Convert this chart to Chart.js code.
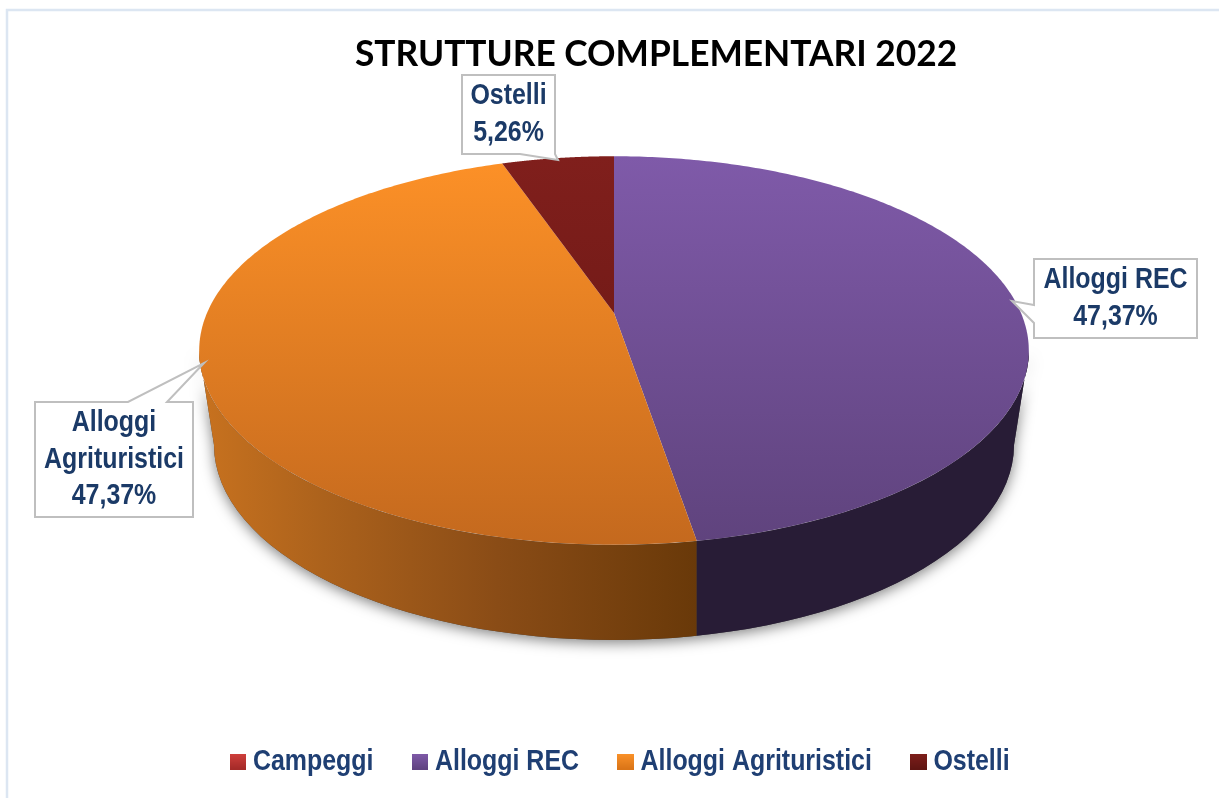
<!DOCTYPE html>
<html lang="it">
<head>
<meta charset="utf-8">
<title>Strutture complementari 2022</title>
<script src="https://cdn.jsdelivr.net/npm/chart.js@4"></script>
<style>
html,body{margin:0;padding:0;background:#fff;}
#wrap{position:relative;width:1219px;height:798px;overflow:hidden;}
</style>
</head>
<body>
<div id="wrap"><canvas id="c" width="1219" height="798"></canvas></div>
<script>
const chartTitle = 'STRUTTURE COMPLEMENTARI 2022';
const categories = ['Campeggi', 'Alloggi REC', 'Alloggi Agrituristici', 'Ostelli'];
const values = [0, 9, 9, 1];
const faceTop = ['#cf3d3a', '#7f5aa9', '#fd9127', '#801f1c'];
const faceBottom = ['#a52a28', '#5f437d', '#c4691e', '#641512'];
const swatchTop = ['#d0403c', '#7f5aa9', '#fb9229', '#7e1f1b'];
const swatchBottom = ['#a32a28', '#5f4280', '#d97417', '#5e1512'];

const SANS = '"Liberation Sans",Arial,sans-serif';
const NAVY = '#1b3a67';
const NARROW_X = 0.86;

const canvas = document.getElementById('c');
const g = canvas.getContext('2d');

function faceGradient(i){
  const gr = g.createLinearGradient(0,156,0,545);
  gr.addColorStop(0, faceTop[i]);
  gr.addColorStop(1, faceBottom[i]);
  return gr;
}
function swatch(i){
  const s = document.createElement('canvas');
  s.width = 19; s.height = 16;
  const x = s.getContext('2d');
  const gr = x.createLinearGradient(0,0,0,16);
  gr.addColorStop(0, swatchTop[i]);
  gr.addColorStop(1, swatchBottom[i]);
  x.fillStyle = gr;
  x.fillRect(0,0,19,16);
  return s;
}
const swatches = categories.map((_,i)=>swatch(i));

// perspective projection of the unit disc onto the tilted pie top
const P = {cx:614, cy:313, a:407, b:187, k:0.193};
function project(t){
  const X = Math.cos(t), Y = Math.sin(t), w = 1 - P.k*Y;
  return [P.cx + P.a*X/w, P.cy + P.b*Y/w];
}
const TOP = {cx:614, cy:350.5, rx:415, ry:194.5};
const BASE = {cx:614, cy:445, rx:400, ry:195};

function wallPath(c){
  c.beginPath();
  c.ellipse(TOP.cx,TOP.cy,TOP.rx,TOP.ry,0,0,Math.PI,false);
  c.lineTo(BASE.cx-BASE.rx,BASE.cy);
  c.ellipse(BASE.cx,BASE.cy,BASE.rx,BASE.ry,0,Math.PI,0,true);
  c.closePath();
}

const callouts = [
  {i:1, box:[1034,259,163,79],
   outline:[[1034,259],[1197,259],[1197,338],[1034,338],[1034,323],[1012,301],[1034,305]]},
  {i:2, box:[35,402,158,115],
   outline:[[35,402],[128,402],[204,363],[167,402],[193,402],[193,517],[35,517]]},
  {i:3, box:[462,75,93,79],
   outline:[[462,75],[555,75],[555,154],[558,160],[520,154],[462,154]]}
];

function wrap(c,text,maxW){
  const out=[]; let line='';
  text.split(' ').forEach(w=>{
    const t = line ? line+' '+w : w;
    if(line && c.measureText(t).width*NARROW_X>maxW){ out.push(line); line=w; } else line=t;
  });
  out.push(line);
  return out;
}

const pie3d = {
  id:'pie3d',
  beforeDraw(chart){
    const c = chart.ctx;
    c.save();
    c.strokeStyle = '#dce6f2';
    c.lineWidth = 2.5;
    c.strokeRect(7,10,1300,1000);
    c.restore();
  },
  afterLayout(chart){
    chart.titleBlock.left += 93;
    const lg = chart.legend;
    lg.top -= 12;
    lg.bottom -= 12;
    if(!lg._narrowed){
      lg._narrowed = true;
      const orig = lg.draw;
      lg.draw = function(){
        const c = chart.ctx, mid = 619;
        c.save();
        c.translate(mid,0); c.scale(NARROW_X,1); c.translate(-mid,0);
        orig.call(this);
        c.restore();
      };
    }
    lg.left += 13.5;
    lg.right += 13.5;
  },
  beforeDatasetDraw(chart,args){
    const c = chart.ctx;
    const arcs = args.meta.data;
    // side wall
    const split = project(arcs[1].endAngle)[0];
    c.save();
    c.shadowColor = 'rgba(0,0,0,0.5)';
    c.shadowBlur = 14;
    c.shadowOffsetY = 3;
    c.fillStyle = '#444';
    wallPath(c); c.fill();
    c.restore();

    c.save();
    wallPath(c); c.clip();
    const gr = c.createLinearGradient(199,0,split,0);
    gr.addColorStop(0,'#c8721f');
    gr.addColorStop(0.25,'#ac621c');
    gr.addColorStop(0.6,'#8a4c16');
    gr.addColorStop(1,'#693909');
    c.fillStyle = gr;
    c.fillRect(190,340,split-190,320);
    c.fillStyle = '#281c36';
    c.fillRect(split,340,850,320);
    c.restore();

    // top face, slices from the library's arc angles
    arcs.forEach(a=>{
      if(a.endAngle-a.startAngle<=0) return;
      c.beginPath();
      c.moveTo(P.cx,P.cy);
      const n = 240;
      for(let s=0;s<=n;s++){
        const t = a.startAngle+(a.endAngle-a.startAngle)*s/n;
        const p = project(t);
        c.lineTo(p[0],p[1]);
      }
      c.closePath();
      c.fillStyle = a.options.backgroundColor;
      c.fill();
    });
    return false;
  },
  afterDatasetsDraw(chart){
    const c = chart.ctx;
    const total = values.reduce((s,v)=>s+v,0);
    callouts.forEach(o=>{
      const [x,y,w,h] = o.box;
      c.save();
      c.fillStyle = '#fff';
      c.strokeStyle = '#bfbfbf';
      c.lineWidth = 2;
      c.lineJoin = 'miter';
      c.beginPath();
      o.outline.forEach((p,k)=> k ? c.lineTo(p[0],p[1]) : c.moveTo(p[0],p[1]));
      c.closePath();
      c.fill(); c.stroke();
      c.font = 'bold 29px '+SANS;
      c.fillStyle = NAVY;
      c.textAlign = 'center';
      c.textBaseline = 'middle';
      const pct = (values[o.i]/total*100).toFixed(2).replace('.',',')+'%';
      const lines = wrap(c,categories[o.i],152).concat([pct]);
      const lh = 36.5;
      const mx = x+w/2, my = y+h/2;
      c.translate(mx,my);
      c.scale(NARROW_X,1);
      lines.forEach((l,k)=>{
        c.fillText(l,0,(k-(lines.length-1)/2)*lh);
      });
      c.restore();
    });
  }
};

new Chart(canvas,{
  type:'pie',
  data:{
    labels:categories,
    datasets:[{
      data:values,
      backgroundColor:categories.map((_,i)=>faceGradient(i)),
      borderWidth:0,
      clip:false
    }]
  },
  options:{
    responsive:false,
    animation:false,
    layout:{padding:0},
    plugins:{
      tooltip:{enabled:false},
      title:{
        display:true,
        text:chartTitle,
        color:'#000',
        font:{family:'Lato,"Open Sans",sans-serif',size:35.3,weight:'bold'},
        padding:{top:33,bottom:10}
      },
      legend:{
        display:true,
        position:'bottom',
        labels:{
          usePointStyle:true,
          pointStyleWidth:6,
          boxHeight:16,
          padding:51,
          color:'#1f3f73',
          font:{family:SANS,size:29,weight:'bold'},
          generateLabels(chart){
            return Chart.overrides.pie.plugins.legend.labels.generateLabels(chart)
              .map((l,i)=>Object.assign(l,{pointStyle:swatches[i],fontColor:'#1f3f73'}));
          }
        }
      }
    }
  },
  plugins:[pie3d]
});
</script>
</body>
</html>
